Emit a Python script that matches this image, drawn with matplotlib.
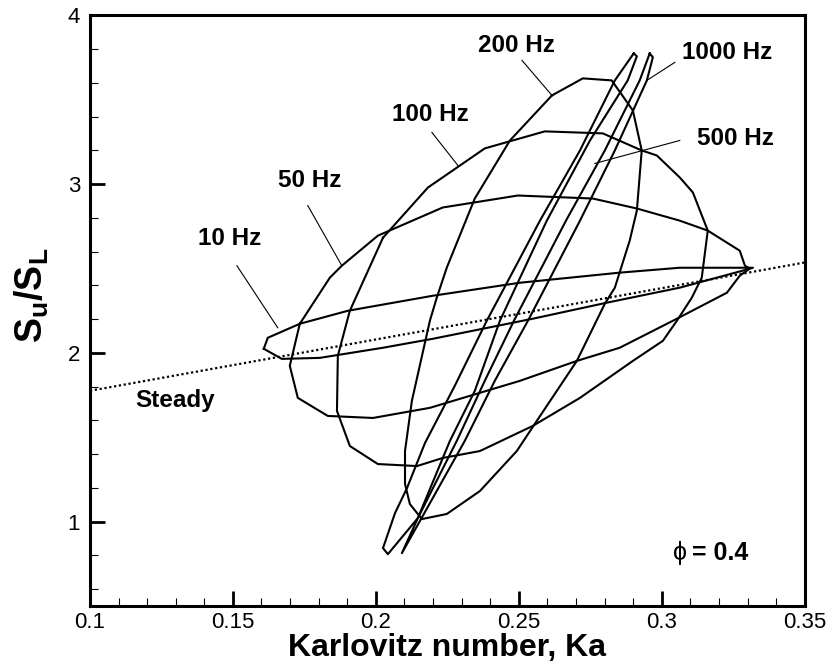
import matplotlib
matplotlib.use('Agg')
import matplotlib.pyplot as plt
from matplotlib.ticker import MultipleLocator

plt.rcParams['font.family'] = ['Liberation Sans', 'DejaVu Sans']
plt.rcParams['mathtext.fontset'] = 'custom'
plt.rcParams['mathtext.rm'] = 'Liberation Sans'
plt.rcParams['mathtext.it'] = 'Liberation Sans:italic'
plt.rcParams['mathtext.bf'] = 'Liberation Sans:bold'

# loops in the (Ka, Su/SL) plane, one closed polygon per forcing frequency
ka_10 = [0.1608, 0.1622, 0.1734, 0.1902, 0.2199, 0.2503, 0.2853, 0.3063, 0.3319,
         0.3284, 0.3063, 0.2808, 0.2549, 0.2199, 0.2025, 0.1804, 0.1671, 0.1608]
s_10 = [2.024, 2.089, 2.172, 2.249, 2.338, 2.415, 2.475, 2.504, 2.504,
        2.487, 2.386, 2.297, 2.202, 2.083, 2.030, 1.970, 1.964, 2.024]

ka_50 = [0.1734, 0.1839, 0.1881, 0.2007, 0.2234, 0.2497, 0.2759, 0.2913, 0.3063,
         0.3161, 0.3273, 0.3291, 0.3308, 0.3273, 0.3228, 0.3053, 0.2853, 0.2703,
         0.2504, 0.2189, 0.1990, 0.1832, 0.1727, 0.1699, 0.1734]
s_50 = [2.172, 2.445, 2.516, 2.694, 2.861, 2.932, 2.914, 2.855, 2.783,
        2.724, 2.605, 2.516, 2.499, 2.457, 2.356, 2.202, 2.030, 1.952,
        1.834, 1.674, 1.614, 1.626, 1.733, 1.923, 2.172]

ka_100 = [0.2025, 0.2182, 0.2381, 0.2591, 0.2794, 0.2930, 0.2983, 0.3063, 0.3109,
          0.3161, 0.3140, 0.3105, 0.3053, 0.3004, 0.2899, 0.2714, 0.2549, 0.2364,
          0.2234, 0.2144, 0.2007, 0.1909, 0.1864, 0.1867, 0.1909, 0.2025]
s_100 = [2.682, 2.979, 3.211, 3.312, 3.300, 3.199, 3.169, 3.039, 2.950,
         2.724, 2.445, 2.326, 2.190, 2.071, 1.952, 1.733, 1.567, 1.418,
         1.377, 1.329, 1.341, 1.448, 1.656, 1.982, 2.249, 2.682]

ka_200 = [0.2616, 0.2724, 0.2825, 0.2899, 0.2930, 0.2913, 0.2888, 0.2836, 0.2801,
          0.2703, 0.2556, 0.2493, 0.2364, 0.2248, 0.2161, 0.2119, 0.2102, 0.2102,
          0.2126, 0.2189, 0.2213, 0.2248, 0.2346, 0.2469, 0.2616]
s_200 = [3.525, 3.626, 3.614, 3.436, 3.199, 2.843, 2.665, 2.386, 2.291,
         1.952, 1.579, 1.418, 1.181, 1.045, 1.015, 1.104, 1.223, 1.418,
         1.715, 2.190, 2.326, 2.504, 2.914, 3.258, 3.525]

ka_500 = [0.2902, 0.2836, 0.2714, 0.2574, 0.2388, 0.2276, 0.2172, 0.2109, 0.2067,
          0.2025, 0.2042, 0.2147, 0.2259, 0.2346, 0.2434, 0.2598, 0.2749, 0.2881,
          0.2913, 0.2902]
s_500 = [3.774, 3.614, 3.199, 2.783, 2.190, 1.804, 1.466, 1.199, 1.050,
         0.843, 0.807, 1.021, 1.478, 1.774, 2.190, 2.783, 3.258, 3.614,
         3.757, 3.774]

ka_1000 = [0.2958, 0.2923, 0.2801, 0.2665, 0.2483, 0.2381, 0.2283, 0.2147, 0.2091,
           0.2154, 0.2311, 0.2416, 0.2532, 0.2714, 0.2836, 0.2948, 0.2969, 0.2958]
s_1000 = [3.774, 3.614, 3.199, 2.783, 2.190, 1.834, 1.478, 1.021, 0.813,
          1.003, 1.478, 1.834, 2.190, 2.783, 3.199, 3.614, 3.751, 3.774]

# steady flame relation
ka_steady = [0.10, 0.35]
s_steady = [1.775, 2.535]

# label text, text centre, leader line (x0, y0, x1, y1)
labels = ['10 Hz', '50 Hz', '100 Hz', '200 Hz', '500 Hz', '1000 Hz']
label_pos = [(0.149, 2.677), (0.1769, 3.021), (0.2192, 3.412),
             (0.2493, 3.822), (0.3259, 3.270), (0.3228, 3.780)]
leaders = [(0.1514, 2.516, 0.1657, 2.148), (0.1762, 2.872, 0.1881, 2.516),
           (0.2196, 3.306, 0.2287, 3.110), (0.2511, 3.733, 0.2616, 3.525),
           (0.3063, 3.258, 0.2766, 3.122), (0.3046, 3.721, 0.2948, 3.614)]

fig = plt.figure(figsize=(8.33, 6.63), dpi=100)
ax = fig.add_axes([0.108, 0.086, 0.858, 0.891])

for ka, s in [(ka_10, s_10), (ka_50, s_50), (ka_100, s_100),
              (ka_200, s_200), (ka_500, s_500), (ka_1000, s_1000)]:
    ax.plot(ka, s, color='black', lw=1.5)

ax.plot(ka_steady, s_steady, color='black', lw=1.6, linestyle=(0, (1, 1.2)))

for name, (tx, ty), (x0, y0, x1, y1) in zip(labels, label_pos, leaders):
    ax.text(tx, ty, name, ha='center', va='center', fontsize=17.5, fontweight='bold')
    ax.plot([x0, x1], [y0, y1], color='black', lw=0.8)

ax.text(0.1297, 1.715, 'Steady', ha='center', va='center', fontsize=17.5, fontweight='bold')
ax.text(0.3063, 0.813, '\u03d5', ha='center', va='center', fontsize=18)
ax.text(0.3106, 0.813, '= 0.4', ha='left', va='center', fontsize=18, fontweight='bold')

ax.set_xlim(0.1, 0.35)
ax.set_ylim(0.5, 4)
ax.set_xticks([0.1, 0.15, 0.2, 0.25, 0.3, 0.35])
ax.set_xticklabels(['0.1', '0.15', '0.2', '0.25', '0.3', '0.35'])
ax.set_yticks([1, 2, 3, 4])
ax.set_yticklabels(['1', '2', '3', '4'])
ax.xaxis.set_minor_locator(MultipleLocator(0.01))
ax.yaxis.set_minor_locator(MultipleLocator(0.2))
ax.tick_params(which='both', direction='in', top=False, right=False)
ax.tick_params(which='major', length=11, width=2, labelsize=16, pad=7)
ax.tick_params(axis='x', which='major', pad=4)
ax.tick_params(which='minor', length=6, width=0.8)
for sp in ax.spines.values():
    sp.set_linewidth(2.2)

ax.set_xlabel('Karlovitz number, Ka', fontsize=23, fontweight='bold')
ax.xaxis.set_label_coords(0.5, -0.045)
ax.xaxis.label.set_va('top')
ax.set_ylabel(r'$\mathbf{S_u/S_L}$', fontsize=27)
ax.yaxis.label.set_va('center')
ax.yaxis.set_label_coords(-0.081, 0.526)

fig.savefig('out.png', dpi=100)
